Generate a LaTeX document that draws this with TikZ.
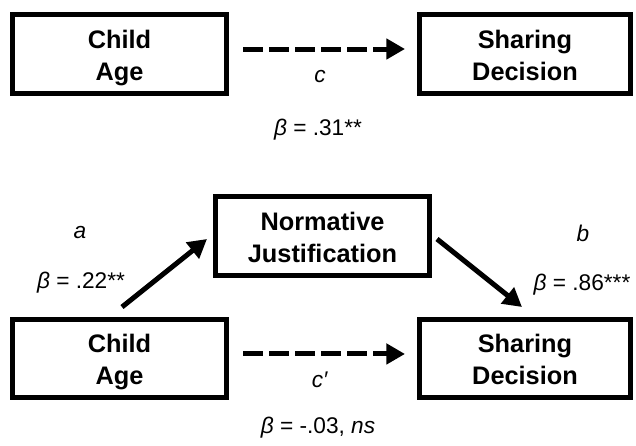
\documentclass[tikz,border=0pt]{standalone}
\usepackage{fontspec}
\setmainfont{Liberation Sans}
\usetikzlibrary{arrows.meta}
\newcommand\bxstrut{\rule[-4.5pt]{0pt}{24pt}}
\begin{document}
\begin{tikzpicture}[x=0.75pt,y=-0.75pt,
  box/.style={draw=black, line width=3.75pt, minimum height=59.25pt, inner sep=0pt,
    align=center, font=\fontsize{19}{24}\selectfont\bfseries},
  lbl/.style={font=\fontsize{17}{20}\selectfont, inner sep=0pt},
  arr/.style={line width=3.75pt, -{Triangle[length=14pt,width=15pt]}},
  darr/.style={arr, dash pattern=on 15pt off 4.5pt}]
\useasboundingbox (0,0) rectangle (636,446);
% top panel
\node[box, minimum width=160.5pt] (ca1) at (119.5,54) {\bxstrut Child\\\bxstrut Age};
\node[box, minimum width=158.25pt] (sd1) at (525,54) {\bxstrut Sharing\\\bxstrut Decision};
\draw[darr, shorten <=10.5pt, shorten >=9pt] ([yshift=3.75pt]ca1.east) -- ([yshift=3.75pt]sd1.west);
\node[lbl] (c) at (320,77) {\textit{c}};
\node[lbl] (b1) at (318,130) {\textit{β} = .31**};
% bottom panel
\node[box, minimum width=160.5pt] (nj) at (322.5,236) {\bxstrut Normative\\\bxstrut Justification};
\node[box, minimum width=160.5pt, minimum height=58.5pt] (ca2) at (119.5,358.5) {\bxstrut Child\\\bxstrut Age};
\node[box, minimum width=158.25pt, minimum height=58.5pt] (sd2) at (525,358.5) {\bxstrut Sharing\\\bxstrut Decision};
\draw[darr, shorten <=10.5pt, shorten >=9pt] ([yshift=3.4pt]ca2.east) -- ([yshift=3.4pt]sd2.west);
\draw[arr] ([shift={(2.5,-10)}]ca2.north) -- ([shift={(-6,3)}]nj.west);
\draw[arr] ([shift={(5,3)}]nj.east) -- ([shift={(-3,-10)}]sd2.north);
\node[lbl] (a) at (80,233) {\textit{a}};
\node[lbl] (ba) at (81,283) {\textit{β} = .22**};
\node[lbl] (b) at (583,233) {\textit{b}};
\node[lbl] (bb) at (582,285) {\textit{β} = .86***};
\node[lbl] (cp) at (320,380) {\textit{c′}};
\node[lbl] (bc) at (318,428) {\textit{β} = -.03, \textit{ns}};
\end{tikzpicture}
\end{document}
